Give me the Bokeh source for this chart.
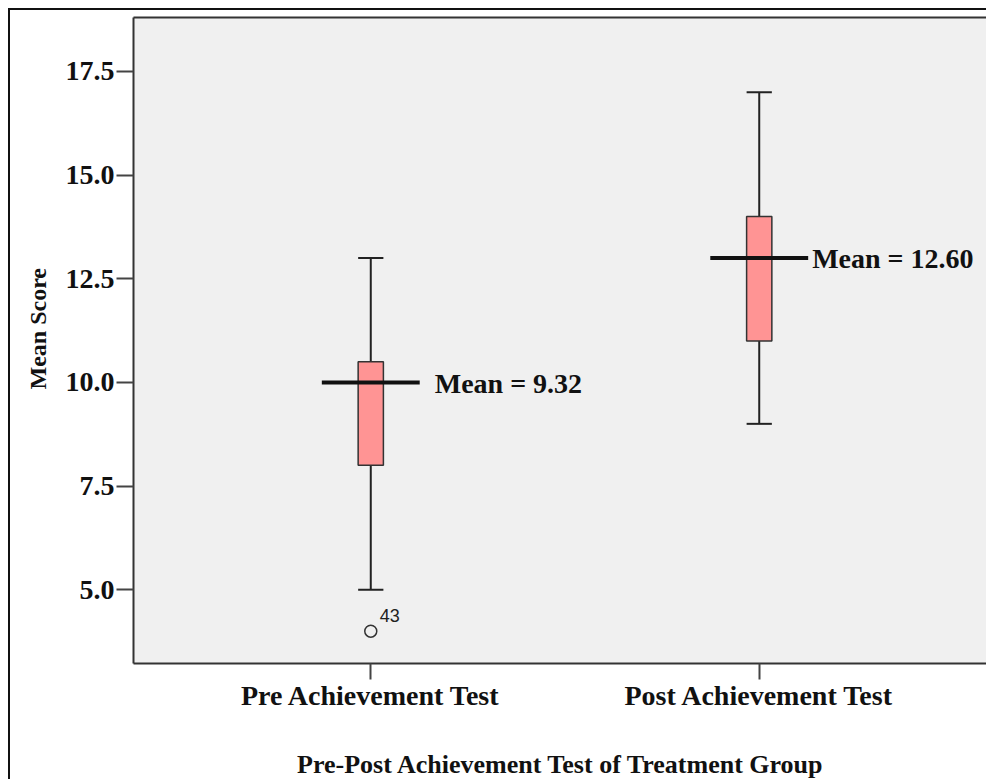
from bokeh.plotting import figure
from bokeh.models import (ColumnDataSource, FixedTicker, PrintfTickFormatter, Range1d,
                          LinearAxis, Title)
from bokeh.core.properties import value
from bokeh.embed import file_html
from bokeh.resources import INLINE

# ---- data ----
categories = ["Pre Achievement Test", "Post Achievement Test"]
whisker_low = [5.0, 9.0]
q1 = [8.0, 11.0]
median = [10.0, 13.0]
q3 = [10.5, 14.0]
whisker_high = [13.0, 17.0]
means = [9.32, 12.60]
outlier_group = [0]
outlier_values = [4.0]
outlier_labels = ["43"]
y_ticks = [5.0, 7.5, 10.0, 12.5, 15.0, 17.5]

SERIF_NAME = "Liberation Serif"
SERIF = value(SERIF_NAME)
SANS = value("Liberation Sans")

xpos = list(range(len(categories)))
box_w = 0.065
med_half = 0.126

p = figure(width=978, height=771, output_backend="svg", toolbar_location=None,
           x_range=Range1d(-0.6108, 1.5902), y_range=Range1d(3.22, 18.80),
           min_border_left=122, min_border_right=0, min_border_top=7,
           min_border_bottom=116)
p.styles = {"margin-left": "8px", "margin-top": "8px",
            "border-left": "2px solid #111", "border-top": "2px solid #111"}
p.background_fill_color = "#f0f0f0"
p.border_fill_color = "white"
p.outline_line_color = None
p.grid.visible = False

src = ColumnDataSource(dict(
    x=xpos, lo=whisker_low, q1=q1, med=median, q3=q3, hi=whisker_high,
    xl=[x - box_w / 2 for x in xpos], xr=[x + box_w / 2 for x in xpos],
    ml=[x - med_half for x in xpos], mr=[x + med_half for x in xpos],
    lab=["Mean = %.2f" % m for m in means],
))

# whiskers
p.segment(x0="x", y0="lo", x1="x", y1="q1", source=src, line_color="#222", line_width=2)
p.segment(x0="x", y0="q3", x1="x", y1="hi", source=src, line_color="#222", line_width=2)
p.segment(x0="xl", y0="lo", x1="xr", y1="lo", source=src, line_color="#222", line_width=2)
p.segment(x0="xl", y0="hi", x1="xr", y1="hi", source=src, line_color="#222", line_width=2)
# boxes
p.vbar(x="x", width=box_w, bottom="q1", top="q3", source=src,
       fill_color="#ff9494", line_color="#333", line_width=1.5)
# median lines
p.segment(x0="ml", y0="med", x1="mr", y1="med", source=src, line_color="#111", line_width=4)

# mean labels
label_offsets = [15, 4]
for i in xpos:
    p.text(x=[src.data["mr"][i]], y=[median[i]], text=[src.data["lab"][i]],
           x_offset=label_offsets[i], y_offset=1, text_baseline="middle", text_align="left",
           text_font=SERIF, text_font_style="bold", text_font_size="28px", text_color="#111")

# outliers
osrc = ColumnDataSource(dict(x=outlier_group, y=outlier_values, t=outlier_labels))
p.scatter(x="x", y="y", source=osrc, size=12, marker="circle", fill_color=None,
          line_color="#333", line_width=1.5)
p.text(x="x", y="y", text="t", source=osrc, x_offset=9, y_offset=-16,
       text_baseline="middle", text_align="left", text_font=SANS,
       text_font_size="18px", text_color="#222")

# axes
for ax in (p.xaxis[0], p.yaxis[0]):
    ax.axis_line_color = "#333"
    ax.axis_line_width = 2
    ax.major_tick_line_color = "#444"
    ax.major_tick_line_width = 2
    ax.major_tick_in = 0
    ax.minor_tick_line_color = None
    ax.major_label_text_font = SERIF_NAME
    ax.major_label_text_font_style = "bold"
    ax.major_label_text_color = "#111"
    ax.axis_label_text_font = SERIF_NAME
    ax.axis_label_text_font_style = "bold"
    ax.axis_label_text_color = "#111"

p.yaxis.ticker = FixedTicker(ticks=y_ticks)
p.yaxis.formatter = PrintfTickFormatter(format="%.1f")
p.yaxis.major_tick_out = 17
p.yaxis.major_label_standoff = 2
p.yaxis.major_label_text_font_size = "28px"

ytitle = Title(text="Mean Score", align="left", offset=274, standoff=24,
               text_font=SERIF_NAME, text_font_style="bold", text_font_size="24px",
               text_color="#111")
p.add_layout(ytitle, "left")

p.xaxis.ticker = FixedTicker(ticks=xpos)
p.xaxis.major_label_overrides = {i: c for i, c in zip(xpos, categories)}
p.xaxis.major_tick_out = 16
p.xaxis.major_label_standoff = 0
p.xaxis.major_label_text_font_size = "28px"
p.xaxis.axis_label = "Pre-Post Achievement Test of Treatment Group"
p.xaxis.axis_label_text_font_size = "26px"
p.xaxis.axis_label_standoff = 36

top = LinearAxis(ticker=FixedTicker(ticks=[]), axis_line_color="#333", axis_line_width=2,
                 major_tick_line_color=None, minor_tick_line_color=None,
                 major_label_text_font_size="0px")
p.add_layout(top, "above")

open("out.html", "w").write(file_html(p, INLINE))
